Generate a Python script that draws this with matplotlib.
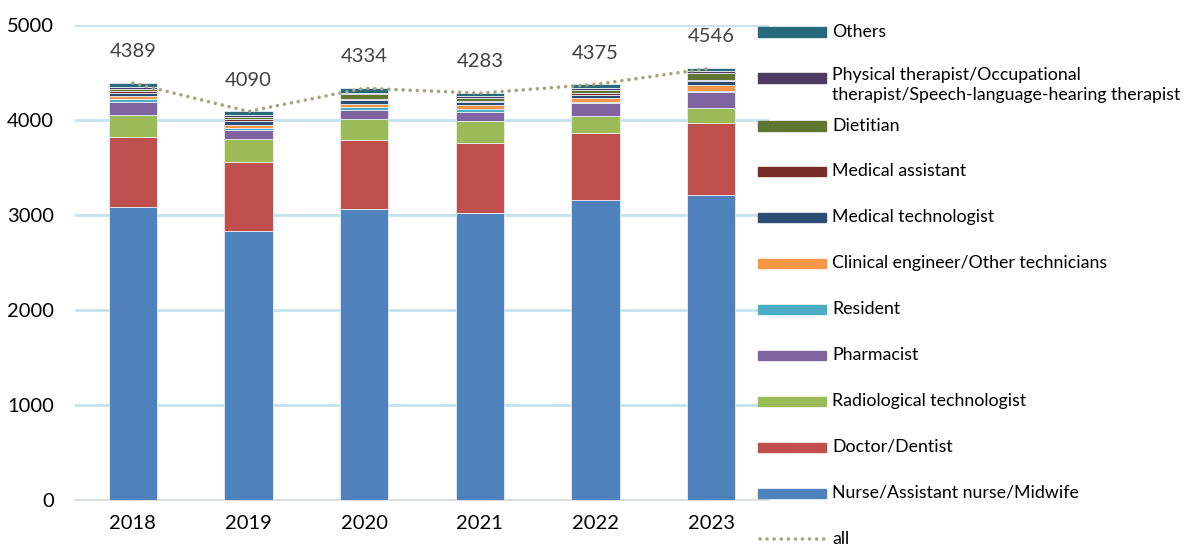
import matplotlib
matplotlib.use("Agg")
import matplotlib.pyplot as plt
from matplotlib.patches import Rectangle
from matplotlib.lines import Line2D
from matplotlib import font_manager
import numpy as np

years = ["2018", "2019", "2020", "2021", "2022", "2023"]
totals = [4389, 4090, 4334, 4283, 4375, 4546]

nurse = [3081, 2835, 3060, 3024, 3158, 3207]
doctor = [737, 726, 733, 730, 705, 758]
radiological = [235, 236, 214, 235, 179, 161]
pharmacist = [140, 98, 101, 98, 133, 166]
resident = [28, 26, 25, 24, 13, 16]
clinical = [28, 30, 38, 45, 45, 63]
medtech = [35, 40, 35, 30, 28, 40]
medassist = [20, 15, 17, 15, 25, 14]
dietitian = [25, 30, 46, 35, 35, 68]
pt = [15, 12, 10, 12, 12, 18]
others = [45, 42, 55, 35, 42, 35]

series = [
    ("Nurse/Assistant nurse/Midwife", nurse, "#4F81BD"),
    ("Doctor/Dentist", doctor, "#C0504D"),
    ("Radiological technologist", radiological, "#9BBB59"),
    ("Pharmacist", pharmacist, "#8064A2"),
    ("Resident", resident, "#4BACC6"),
    ("Clinical engineer/Other technicians", clinical, "#F79646"),
    ("Medical technologist", medtech, "#2C4D75"),
    ("Medical assistant", medassist, "#772C2A"),
    ("Dietitian", dietitian, "#5F7530"),
    ("Physical therapist/Occupational\ntherapist/Speech-language-hearing therapist", pt, "#4D3B62"),
    ("Others", others, "#276A7C"),
]

names = {f.name for f in font_manager.fontManager.ttflist}
main = "Liberation Sans Narrow" if "Liberation Sans Narrow" in names else "Lato"
plt.rcParams["font.family"] = [main, "DejaVu Sans"]

W, H = 1187, 547
fig = plt.figure(figsize=(W/100, H/100), dpi=100)
ax = fig.add_axes([75/W, 1-500/H, (769-75)/W, 475/H])

x = np.arange(len(years)) + 0.5
bottom = np.zeros(len(years))
for name, vals, col in series:
    v = np.array(vals, dtype=float)
    ax.bar(x, v, width=0.42, bottom=bottom, color=col, edgecolor="#e8eef5",
           linewidth=0.6, zorder=3)
    bottom += v

dot_style = (0, (0.01, 1.95))
ax.plot(x, totals, linestyle=dot_style, color="#A8A27E", linewidth=2.6,
        dash_capstyle="round", zorder=4)
for xi, t in zip(x, totals):
    ax.text(xi, t + 330, str(t), ha="center", va="center", fontsize=14.5,
            color="#404040", zorder=5)

ax.set_xlim(0, 6)
ax.set_ylim(0, 5000)
ax.set_yticks([0, 1000, 2000, 3000, 4000, 5000])
ax.set_xticks(x)
ax.set_xticklabels(years)
ax.tick_params(axis="both", length=0, labelsize=14.5, labelcolor="#000000")
ax.tick_params(axis="x", pad=11)
ax.tick_params(axis="y", pad=15)
ax.grid(axis="y", color="#C3E2EE", linewidth=2, zorder=0)
for s in ["top", "right", "left"]:
    ax.spines[s].set_visible(False)
ax.spines["bottom"].set_color("#D9D9D9")
ax.spines["bottom"].set_linewidth(1.2)

# legend
legend_items = list(reversed(series))
ys = [32, 78, 126, 171, 217, 263, 309, 355, 401, 447, 493]
for (name, vals, col), yc in zip(legend_items, ys):
    fig.patches.append(Rectangle((758/W, 1-(yc+4.5)/H), 68/W, 9/H,
                                 transform=fig.transFigure, color=col, zorder=5))
    if "\n" in name:
        fig.text(832/W, 1-(yc-11)/H, name, ha="left", va="top",
                 fontsize=12.8, color="#000000", linespacing=1.28,
                 transform=fig.transFigure)
    else:
        fig.text(832/W, 1-yc/H, name, ha="left", va="center",
                 fontsize=12.8, color="#000000", transform=fig.transFigure)
fig.lines.append(Line2D([760/W, 826/W], [1-539/H, 1-539/H], transform=fig.transFigure,
                        linestyle=dot_style, color="#A8A27E", linewidth=2.6,
                        dash_capstyle="round"))
fig.text(832/W, 1-539/H, "all", ha="left", va="center", fontsize=12.8,
         color="#000000", transform=fig.transFigure)

fig.savefig("out.png", dpi=100)
